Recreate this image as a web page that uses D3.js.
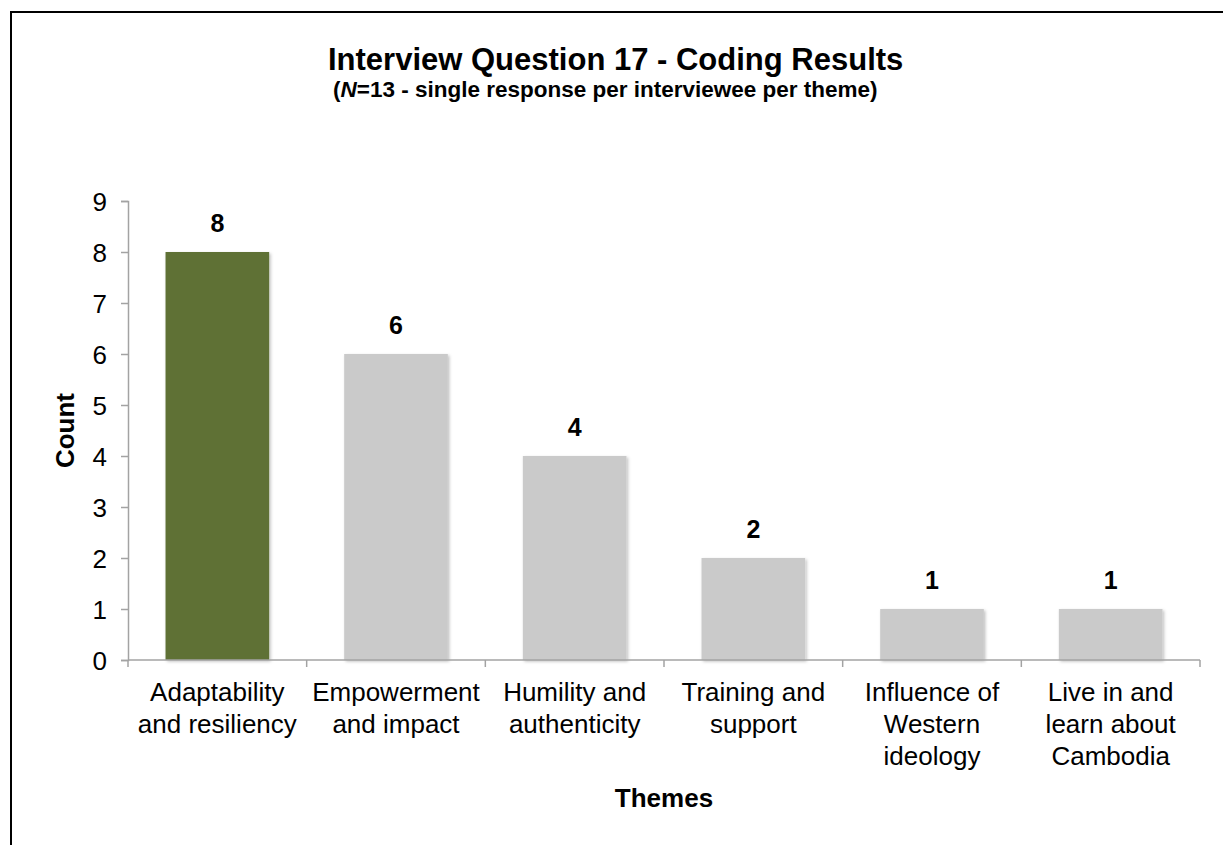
<!DOCTYPE html>
<html>
<head>
<meta charset="utf-8">
<script src="https://cdn.jsdelivr.net/npm/d3@7"></script>
<style>
  html, body { margin: 0; padding: 0; background: #fff; }
  svg { display: block; font-family: "Liberation Sans", Arial, sans-serif; }
</style>
</head>
<body>
<svg id="chart" width="1223" height="845"></svg>
<script>
// ---- data ----
const categories = ["Adaptability and resiliency", "Empowerment and impact", "Humility and authenticity",
                    "Training and support", "Influence of Western ideology", "Live in and learn about Cambodia"];
const tickLabelLines = [["Adaptability", "and resiliency"], ["Empowerment", "and impact"], ["Humility and", "authenticity"],
                        ["Training and", "support"], ["Influence of", "Western", "ideology"], ["Live in and", "learn about", "Cambodia"]];
const counts = [8, 6, 4, 2, 1, 1];
const yTicks = [0, 1, 2, 3, 4, 5, 6, 7, 8, 9];
const highlighted = ["Adaptability and resiliency"];
const titleText = "Interview Question 17 - Coding Results";
const xAxisTitle = "Themes";
const yAxisTitle = "Count";

// ---- layout ----
const svg = d3.select("#chart");
const plotL = 128, plotR = 1200, plotT = 201, plotB = 660;
const green = "#5f7136", gray = "#cacaca", axisColor = "#a3a3a3";

// outer border (chart frame, cropped on right/bottom)
svg.append("rect").attr("x", 11).attr("y", 12).attr("width", 1400).attr("height", 1000)
  .attr("fill", "none").attr("stroke", "#000").attr("stroke-width", 2);

const defs = svg.append("defs");
const f = defs.append("filter").attr("id", "shadow").attr("x", "-10%").attr("y", "-10%").attr("width", "130%").attr("height", "130%");
f.append("feDropShadow").attr("dx", 1.5).attr("dy", 1.5).attr("stdDeviation", 1.5)
  .attr("flood-color", "#000").attr("flood-opacity", 0.25);

const x = d3.scaleBand().domain(categories).range([plotL, plotR]).paddingInner(0.42).paddingOuter(0.21);
const y = d3.scaleLinear().domain([0, 9]).range([plotB, plotT]);

// bars
svg.append("g").selectAll("rect").data(categories).join("rect")
  .attr("x", d => x(d))
  .attr("y", (d, i) => y(counts[i]))
  .attr("width", x.bandwidth())
  .attr("height", (d, i) => y(0) - y(counts[i]))
  .attr("fill", d => highlighted.includes(d) ? green : gray)
  .attr("filter", "url(#shadow)");

// value labels
svg.append("g").selectAll("text").data(categories).join("text")
  .attr("x", d => x(d) + x.bandwidth() / 2)
  .attr("y", (d, i) => y(counts[i]) - 20)
  .attr("text-anchor", "middle")
  .attr("font-size", 25).attr("font-weight", "bold").attr("fill", "#000")
  .text((d, i) => counts[i]);

// y axis
const yAxis = svg.append("g").attr("transform", `translate(${plotL},0)`)
  .call(d3.axisLeft(y).tickValues(yTicks).tickSize(7).tickPadding(14).tickFormat(d3.format("d")));
yAxis.select(".domain").attr("stroke", axisColor).attr("stroke-width", 1.5);
yAxis.selectAll(".tick line").attr("stroke", axisColor).attr("stroke-width", 1.5);
yAxis.selectAll(".tick text").attr("font-size", 26).attr("fill", "#000")
  .attr("font-family", "Liberation Sans, Arial, sans-serif").attr("dy", "0.35em");

// x axis with boundary ticks
const boundaries = categories.map(c => x(c) - x.step() * x.paddingInner() / 2);
boundaries[0] = plotL;
boundaries.push(plotR);
const xg = svg.append("g");
xg.append("line").attr("x1", plotL).attr("x2", plotR).attr("y1", plotB).attr("y2", plotB)
  .attr("stroke", axisColor).attr("stroke-width", 1.5);
xg.selectAll("line.tk").data(boundaries).join("line").attr("class", "tk")
  .attr("x1", d => d).attr("x2", d => d).attr("y1", plotB).attr("y2", plotB + 7)
  .attr("stroke", axisColor).attr("stroke-width", 1.5);

// category labels
const lab = svg.append("g").selectAll("text").data(categories).join("text")
  .attr("text-anchor", "middle").attr("font-size", 26).attr("fill", "#000");
lab.each(function(d, i) {
  const t = d3.select(this);
  tickLabelLines[i].forEach((line, j) => {
    t.append("tspan").attr("x", x(d) + x.bandwidth() / 2).attr("y", 701 + j * 32).text(line);
  });
});

// titles
svg.append("text").attr("x", 328).attr("y", 70).attr("text-anchor", "start")
  .attr("font-size", 31).attr("font-weight", "bold").text(titleText);
const sub = svg.append("text").attr("x", 333).attr("y", 97).attr("text-anchor", "start")
  .attr("font-size", 22.5).attr("font-weight", "bold");
sub.append("tspan").text("(");
sub.append("tspan").attr("font-style", "italic").text("N");
sub.append("tspan").text("=13 - single response per interviewee per theme)");

// axis titles
svg.append("text").attr("x", (plotL + plotR) / 2).attr("y", 807).attr("text-anchor", "middle")
  .attr("font-size", 26).attr("font-weight", "bold").text(xAxisTitle);
svg.append("text").attr("transform", `translate(74,${(plotT + plotB) / 2}) rotate(-90)`)
  .attr("text-anchor", "middle").attr("font-size", 26).attr("font-weight", "bold").text(yAxisTitle);
</script>
</body>
</html>
